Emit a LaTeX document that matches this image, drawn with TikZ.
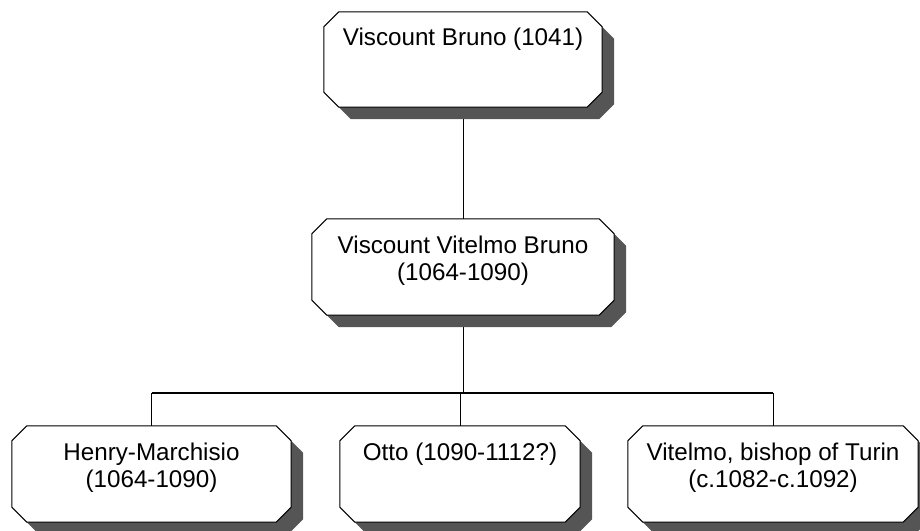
\documentclass[tikz,border=0pt]{standalone}
\usepackage{fontspec}
\setmainfont{Liberation Sans}
\definecolor{shadowgray}{HTML}{555555}
% octagonal outline around node #1, moved right/down by #2
\newcommand\famboxpath[2]{%
  ([xshift=15bp+#2, yshift=-#2]#1.north west) -- ([xshift=-15bp+#2, yshift=-#2]#1.north east)
  -- ([xshift=#2, yshift=-15bp-#2]#1.north east) -- ([xshift=#2, yshift=15bp-#2]#1.south east)
  -- ([xshift=-15bp+#2, yshift=-#2]#1.south east) -- ([xshift=15bp+#2, yshift=-#2]#1.south west)
  -- ([xshift=#2, yshift=15bp-#2]#1.south west) -- ([xshift=#2, yshift=-15bp-#2]#1.north west)
  -- cycle}
\newcommand\drawfambox[1]{%
  \fill[shadowgray] \famboxpath{#1}{12bp};
  \draw[line width=1bp, fill=white] \famboxpath{#1}{0bp};}
\begin{document}
\begin{tikzpicture}[x=1bp,y=-1bp,
  person/.style={rectangle, inner sep=0pt, minimum height=96bp},
  caption/.style={anchor=north, inner sep=0pt, align=center,
    font=\fontsize{24.2bp}{27.8bp}\selectfont},
  link/.style={line width=1bp, draw=black},
  bus/.style={line width=1.6bp, draw=black}]
  \useasboundingbox (0,0) rectangle (920,531);

  % box frames
  \node[person, minimum width=278bp, minimum height=95bp] (bruno) at (463,59.5) {};
  \node[person, minimum width=302bp] (vitelmo) at (463,267) {};
  \node[person, minimum width=279bp] (henry) at (151.5,474) {};
  \node[person, minimum width=240bp] (otto) at (460,474) {};
  \node[person, minimum width=290bp] (bishop) at (773,474) {};

  % lineage
  \coordinate (fork) at (463,393);
  \draw[link] (bruno.south) -- (vitelmo.north);
  \draw[link] (vitelmo.south) -- (fork);
  \draw[bus] (henry.north |- fork) -- (bishop.north |- fork);
  \draw[link] (henry.north) -- (henry.north |- fork);
  \draw[link] (otto.north) -- (otto.north |- fork);
  \draw[link] (bishop.north) -- (bishop.north |- fork);

  % boxes with shadows
  \drawfambox{bruno}
  \drawfambox{vitelmo}
  \drawfambox{henry}
  \drawfambox{otto}
  \drawfambox{bishop}

  % names
  \node[caption] (brunoT) at ([yshift=-15.5bp]bruno.north) {Viscount Bruno (1041)};
  \node[caption] (vitelmoT) at ([yshift=-16.5bp]vitelmo.north) {Viscount Vitelmo Bruno\\(1064-1090)};
  \node[caption] (henryT) at ([yshift=-16.5bp]henry.north) {Henry-Marchisio\\(1064-1090)};
  \node[caption] (ottoT) at ([yshift=-16.5bp]otto.north) {Otto (1090-1112?)};
  \node[caption] (bishopT) at ([yshift=-16.5bp]bishop.north) {Vitelmo, bishop of Turin\\(c.1082-c.1092)};
\end{tikzpicture}
\end{document}
